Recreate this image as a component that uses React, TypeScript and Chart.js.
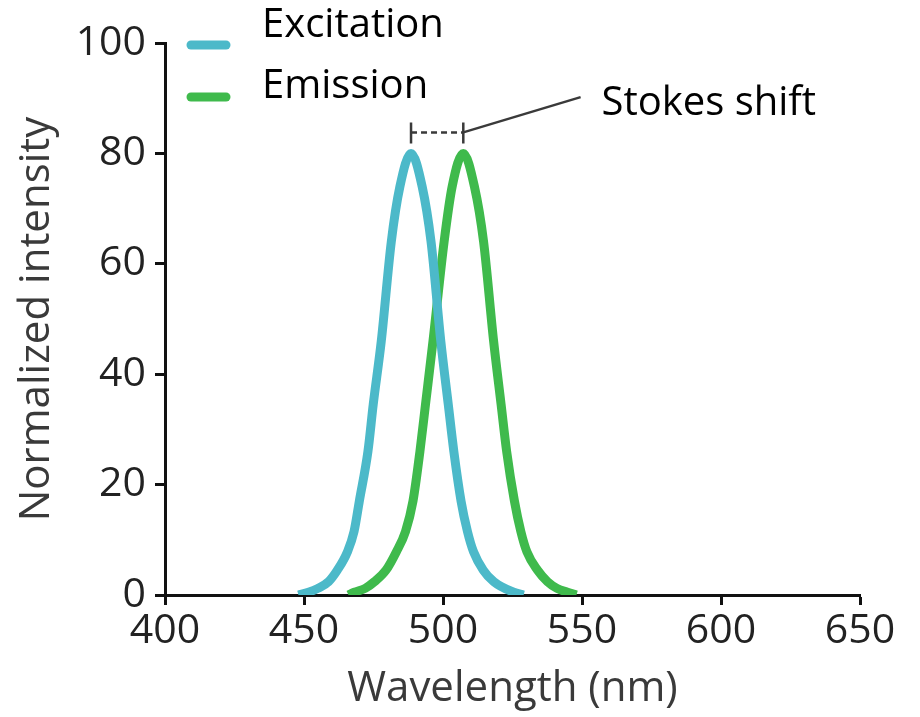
import React, { useEffect, useRef } from "react";
import { Chart, registerables } from "chart.js";

Chart.register(...registerables);

// ---- data ----
const seriesLabels = ["Excitation", "Emission"];
const seriesColors = ["#4cb9c9", "#3fba4c"];

const excitationX = [448, 451.6, 455, 458.8, 462, 465.6, 468, 469.9, 473, 474.9, 477.8, 481.4, 484.5, 488.5, 492.5, 495.7, 499.2, 501.9, 503.9, 506.5, 508.8, 511, 514.5, 518.3, 525.4, 529];
const excitationY = [0, 0.5, 1.2, 2.4, 4.5, 7.8, 11.5, 17, 26, 34.5, 46, 64, 74, 80, 74, 64, 46, 34.5, 26, 17, 11.5, 7.8, 4.5, 2.4, 0.5, 0];

const emissionX = [466, 468.1, 472, 475.3, 479.5, 483.2, 486.5, 489.2, 491.7, 493.7, 496.4, 500.4, 503.3, 507.3, 511.3, 514.6, 518.2, 520.9, 522.9, 525.7, 528, 530.2, 534, 537.6, 541, 544.8, 548];
const emissionY = [0, 0.5, 1.2, 2.4, 4.5, 7.8, 11.5, 17, 26, 34.5, 46, 64, 74, 80, 74, 64, 46, 34.5, 26, 17, 11.5, 7.8, 4.5, 2.4, 1.2, 0.5, 0];

const xTicks = [400, 450, 500, 550, 600, 650];
const yTicks = [0, 20, 40, 60, 80, 100];

const xTitle = "Wavelength (nm)";
const yTitle = "Normalized intensity";

const stokesText = "Stokes shift";
const stokesBarY = 83.8;
const stokesCapTop = 85.6;
const stokesCapBottom = 81.8;
const stokesLeaderEnd = { x: 549.5, y: 90.2 };
const stokesLabelPos = { x: 557, y: 87 };

function peakX(xs: number[], ys: number[]) {
  let best = 0;
  for (let i = 1; i < ys.length; i++) if (ys[i] > ys[best]) best = i;
  return xs[best];
}

const annotationPlugin = {
  id: "customAnnotations",
  afterDraw(chart: any) {
    const ctx = chart.ctx as CanvasRenderingContext2D;
    const xs = chart.scales.x;
    const ys = chart.scales.y;
    const area = chart.chartArea;

    // legend
    ctx.save();
    ctx.lineCap = "round";
    ctx.lineWidth = 9;
    const legendRows = [
      { sampleY: 45, textY: 37 },
      { sampleY: 97, textY: 98 },
    ];
    legendRows.forEach((r, i) => {
      ctx.strokeStyle = seriesColors[i];
      ctx.beginPath();
      ctx.moveTo(area.left + 26, r.sampleY);
      ctx.lineTo(area.left + 61, r.sampleY);
      ctx.stroke();
      ctx.fillStyle = "#000";
      ctx.font = "40px 'Open Sans'";
      ctx.textAlign = "left";
      ctx.textBaseline = "alphabetic";
      ctx.fillText(seriesLabels[i], 262, r.textY);
    });
    ctx.restore();

    // Stokes shift
    const px1 = xs.getPixelForValue(peakX(excitationX, excitationY));
    const px2 = xs.getPixelForValue(peakX(emissionX, emissionY));
    const yb = ys.getPixelForValue(stokesBarY);
    const yt = ys.getPixelForValue(stokesCapTop);
    const ybot = ys.getPixelForValue(stokesCapBottom);
    ctx.save();
    ctx.strokeStyle = "#3a3a3a";
    ctx.lineWidth = 2.5;
    ctx.beginPath();
    ctx.moveTo(px1, yt);
    ctx.lineTo(px1, ybot);
    ctx.moveTo(px2, yt);
    ctx.lineTo(px2, ybot);
    ctx.stroke();
    ctx.setLineDash([6, 4]);
    ctx.beginPath();
    ctx.moveTo(px1, yb);
    ctx.lineTo(px2, yb);
    ctx.stroke();
    ctx.setLineDash([]);
    ctx.beginPath();
    ctx.moveTo(px2, yb);
    ctx.lineTo(xs.getPixelForValue(stokesLeaderEnd.x), ys.getPixelForValue(stokesLeaderEnd.y));
    ctx.stroke();
    ctx.fillStyle = "#000";
    ctx.font = "40px 'Open Sans'";
    ctx.textAlign = "left";
    ctx.textBaseline = "alphabetic";
    ctx.fillText(stokesText, xs.getPixelForValue(stokesLabelPos.x), ys.getPixelForValue(stokesLabelPos.y));
    ctx.restore();
  },
};

export default function App() {
  const canvasRef = useRef<HTMLCanvasElement | null>(null);

  useEffect(() => {
    if (!canvasRef.current) return;
    const mk = (xsArr: number[], ysArr: number[]) => xsArr.map((x, i) => ({ x, y: ysArr[i] }));
    const chart = new Chart(canvasRef.current, {
      type: "line",
      data: {
        datasets: [
          {
            label: seriesLabels[0],
            data: mk(excitationX, excitationY),
            borderColor: seriesColors[0],
            borderWidth: 9,
            pointRadius: 0,
            cubicInterpolationMode: "monotone",
            fill: false,
          },
          {
            label: seriesLabels[1],
            data: mk(emissionX, emissionY),
            borderColor: seriesColors[1],
            borderWidth: 9,
            pointRadius: 0,
            cubicInterpolationMode: "monotone",
            fill: false,
          },
        ],
      },
      options: {
        animation: false,
        responsive: true,
        maintainAspectRatio: false,
        layout: { padding: { top: 43, right: 60, left: 0, bottom: 0 } },
        plugins: { legend: { display: false }, tooltip: { enabled: false } },
        scales: {
          x: {
            type: "linear",
            min: 400,
            max: 650,
            afterBuildTicks: (s: any) => {
              s.ticks = xTicks.map((v) => ({ value: v }));
            },
            afterFit: (s: any) => {
              s.height = 122;
            },
            border: { display: true, color: "#111", width: 3 },
            grid: { drawOnChartArea: false, drawTicks: true, tickLength: 10, tickWidth: 3, tickColor: "#111" },
            ticks: { color: "#222", font: { family: "'Open Sans'", size: 41 }, padding: 2, maxRotation: 0 },
            title: {
              display: true,
              text: xTitle,
              color: "#3a3a3a",
              font: { family: "'Open Sans'", size: 42 },
              padding: { top: 0, bottom: 3 },
            },
          },
          y: {
            type: "linear",
            min: 0,
            max: 100,
            afterBuildTicks: (s: any) => {
              s.ticks = yTicks.map((v) => ({ value: v }));
            },
            afterFit: (s: any) => {
              s.width = 165;
            },
            border: { display: true, color: "#111", width: 3 },
            grid: { drawOnChartArea: false, drawTicks: true, tickLength: 10, tickWidth: 3, tickColor: "#111" },
            ticks: { color: "#222", font: { family: "'Open Sans'", size: 41 }, padding: 9 },
            title: {
              display: true,
              text: yTitle,
              color: "#3a3a3a",
              font: { family: "'Open Sans'", size: 42 },
              padding: { top: 12, bottom: 0 },
            },
          },
        },
      },
      plugins: [annotationPlugin],
    });
    return () => chart.destroy();
  }, []);

  return (
    <div style={{ position: "fixed", left: 0, top: 0, width: 920, height: 717, background: "#fff" }}>
      <canvas ref={canvasRef} />
    </div>
  );
}
